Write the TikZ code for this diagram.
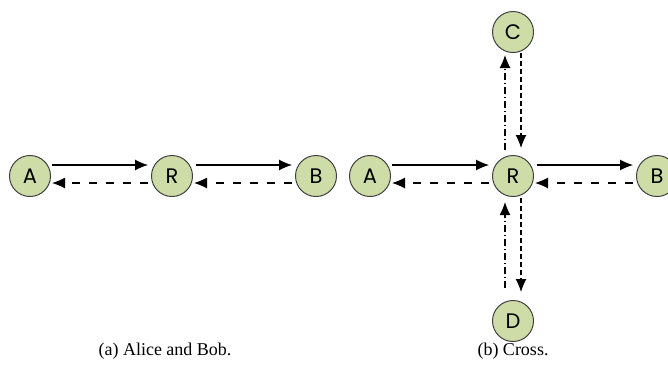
\documentclass[tikz,border=0pt]{standalone}
\usepackage{fontspec}
\setmainfont{Liberation Serif}
\newfontfamily\nodefont{Poppins}
\usetikzlibrary{arrows.meta,calc}
\definecolor{nodegreen}{RGB}{206,221,168}
\begin{document}
\begin{tikzpicture}[x=0.5pt,y=-0.5pt,
  peer/.style={circle,draw=black!75,line width=0.5pt,fill=nodegreen,minimum size=20.5pt,inner sep=0pt,font=\nodefont\fontsize{10.5}{10.5}\selectfont},
  arr/.style={-{Latex[length=6.5pt,width=5.5pt]},line width=0.55pt},
  back/.style={arr,dash pattern=on 4pt off 4.5pt},
  vdash/.style={arr,dash pattern=on 2.5pt off 1.5pt},
  vdot/.style={arr,dash pattern=on 3.5pt off 1.5pt on 0.5pt off 1.5pt},
  captext/.style={font=\fontsize{9}{11}\selectfont,inner sep=0pt}]
\useasboundingbox (0,0) rectangle (668,366);
% (a)
\node[peer] (A1) at (30,176) {A};
\node[peer] (R1) at (172,176) {R};
\node[peer] (B1) at (316,176) {B};
\draw[arr] ($(A1)+(22,-11)$) -- ($(R1)+(-24,-11)$);
\draw[back] ($(R1)+(-24,7)$) -- ($(A1)+(22,7)$);
\draw[arr] ($(R1)+(24,-11)$) -- ($(B1)+(-24,-11)$);
\draw[back] ($(B1)+(-24,7)$) -- ($(R1)+(22,7)$);
% (b)
\node[peer] (A2) at (370,176) {A};
\node[peer] (R2) at (513,176) {R};
\node[peer] (B2) at (657,176) {B};
\node[peer] (C) at (513,32) {C};
\node[peer] (D) at (513,321) {D};
\draw[arr] ($(A2)+(22,-11)$) -- ($(R2)+(-24,-11)$);
\draw[back] ($(R2)+(-24,7)$) -- ($(A2)+(22,7)$);
\draw[arr] ($(R2)+(24,-11)$) -- ($(B2)+(-24,-11)$);
\draw[back] ($(B2)+(-24,7)$) -- ($(R2)+(22,7)$);
\draw[vdot] ($(R2)+(-8,-26)$) -- ($(C)+(-8,23)$);
\draw[vdash] ($(C)+(8,21)$) -- ($(R2)+(8,-28)$);
\draw[vdot] ($(D)+(-8,-33)$) -- ($(R2)+(-8,26)$);
\draw[vdash] ($(R2)+(8,22)$) -- ($(D)+(8,-29)$);
% captions
\node[captext] (capa) at (165,351) {(a) Alice and Bob.};
\node[captext] (capb) at (513,351) {(b) Cross.};
\end{tikzpicture}
\end{document}
